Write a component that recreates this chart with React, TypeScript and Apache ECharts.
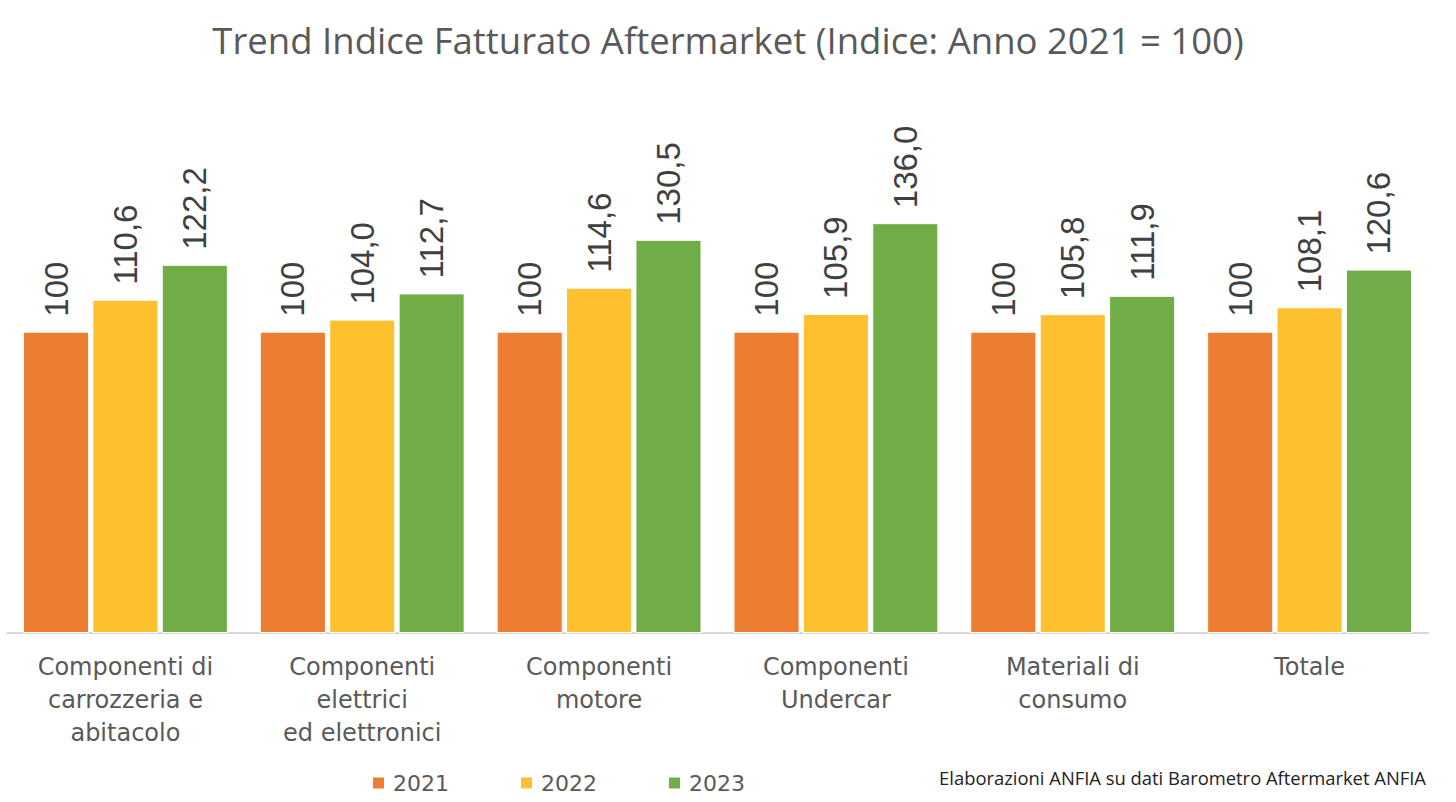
import React, { useEffect, useRef } from "react";
import * as echarts from "echarts";

const categories = [
  "Componenti di\ncarrozzeria e\nabitacolo",
  "Componenti\nelettrici\ned elettronici",
  "Componenti\nmotore",
  "Componenti\nUndercar",
  "Materiali di\nconsumo",
  "Totale",
];
const seriesNames = ["2021", "2022", "2023"];
const values2021 = [100, 100, 100, 100, 100, 100];
const values2022 = [110.6, 104.0, 114.6, 105.9, 105.8, 108.1];
const values2023 = [122.2, 112.7, 130.5, 136.0, 111.9, 120.6];
const colors = ["#ED7D31", "#FDC02F", "#70AD47"];
const titleText = "Trend Indice Fatturato Aftermarket (Indice: Anno 2021 = 100)";
const sourceText = "Elaborazioni ANFIA su dati Barometro Aftermarket ANFIA";

export default function App() {
  const ref = useRef<HTMLDivElement>(null);
  useEffect(() => {
    if (!ref.current) return;
    const chart = echarts.init(ref.current, undefined, { renderer: "svg" });
    const all = [values2021, values2022, values2023];
    chart.setOption({
      animation: false,
      backgroundColor: "#ffffff",
      title: {
        text: titleText,
        left: "center",
        top: 16,
        textStyle: {
          fontFamily: "Open Sans",
          fontSize: 36.5,
          fontWeight: "normal",
          color: "#595959",
        },
      },
      legend: {
        data: seriesNames,
        left: 366,
        top: 767,
        itemWidth: 13,
        itemHeight: 13,
        itemGap: 70,
        icon: "rect",
        textStyle: { fontFamily: "DejaVu Sans", fontSize: 22, color: "#595959", padding: [0, 0, 0, 3] },
      },
      graphic: [
        {
          type: "text",
          right: 30,
          top: 768,
          style: {
            text: sourceText,
            fontFamily: "Open Sans",
            fontSize: 18.4,
            fill: "#222222",
          },
        },
      ],
      grid: { left: 7, right: 28, top: 181, bottom: 169, containLabel: false },
      xAxis: {
        type: "category",
        data: categories,
        axisLine: { lineStyle: { color: "#d9d9d9", width: 2 } },
        axisTick: { show: false },
        axisLabel: {
          fontFamily: "DejaVu Sans",
          fontSize: 24,
          color: "#595959",
          lineHeight: 33,
          margin: 17,
          interval: 0,
        },
      },
      yAxis: {
        type: "value",
        min: 0,
        max: 150,
        show: false,
        splitLine: { show: false },
      },
      series: all.map((vals, i) => ({
        name: seriesNames[i],
        type: "bar",
        data: vals,
        barCategoryGap: "13.5%",
        barGap: "5%",
        itemStyle: { color: colors[i], borderColor: "#ffffff", borderWidth: 1 },
        label: {
          show: true,
          position: "top",
          rotate: 90,
          align: "left",
          verticalAlign: "middle",
          distance: 15,
          fontFamily: "Liberation Sans",
          fontSize: 33,
          color: "#404040",
          formatter: (p: any) =>
            i === 0 ? String(p.value) : Number(p.value).toFixed(1).replace(".", ","),
        },
      })),
    });
    return () => chart.dispose();
  }, []);
  return <div ref={ref} style={{ width: 1456, height: 802, position: "absolute", left: 0, top: 0 }} />;
}
